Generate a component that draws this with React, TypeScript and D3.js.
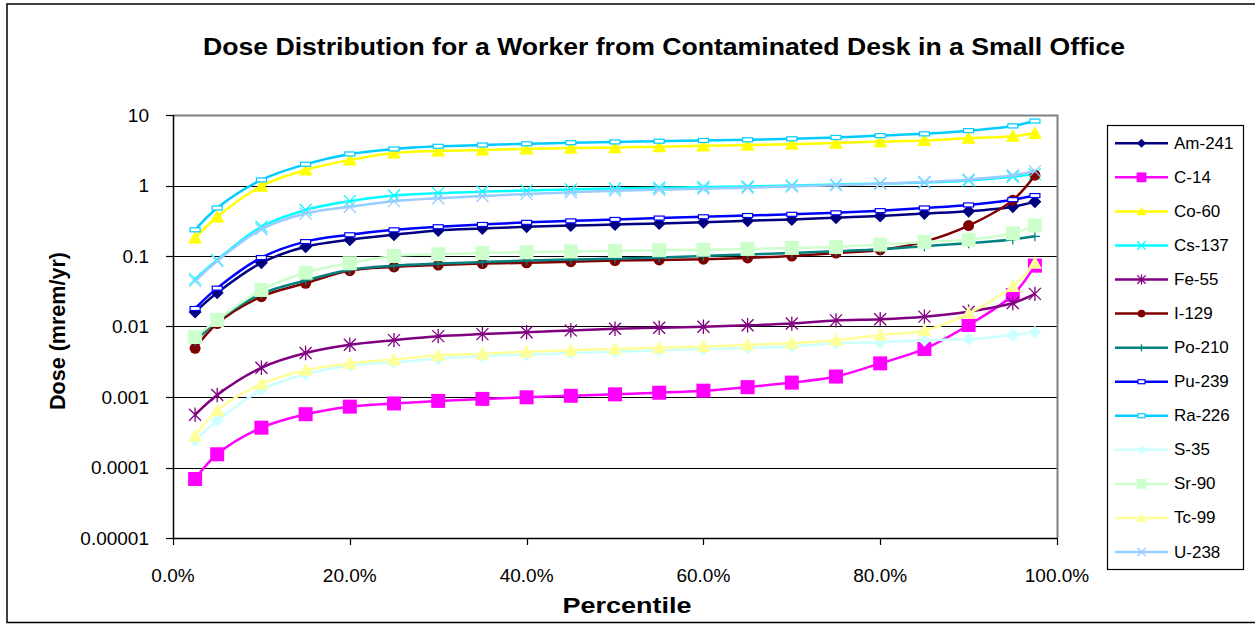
import React from "react";
import * as d3 from "d3";

// percentile points (fraction)
const percentiles = [0.025, 0.05, 0.1, 0.15, 0.2, 0.25, 0.3, 0.35, 0.4, 0.45, 0.5, 0.55, 0.6, 0.65, 0.7, 0.75, 0.8, 0.85, 0.9, 0.95, 0.975];

// dose (mrem/yr) per nuclide
const am241 = [0.016, 0.03, 0.08, 0.135, 0.17, 0.2, 0.23, 0.245, 0.26, 0.27, 0.28, 0.29, 0.3, 0.315, 0.33, 0.35, 0.37, 0.4, 0.43, 0.5, 0.59];
const c14 = [0.0000687, 0.000154, 0.000367, 0.00057, 0.00073, 0.00081, 0.00088, 0.00094, 0.00099, 0.00104, 0.00109, 0.00115, 0.00123, 0.00138, 0.0016, 0.00195, 0.003, 0.0048, 0.0105, 0.028, 0.073];
const co60 = [0.18, 0.36, 0.98, 1.66, 2.3, 2.9, 3.1, 3.2, 3.3, 3.4, 3.45, 3.55, 3.65, 3.75, 3.85, 4.0, 4.2, 4.35, 4.7, 5.0, 5.5];
const cs137 = [0.047, 0.088, 0.26, 0.45, 0.6, 0.72, 0.78, 0.82, 0.85, 0.88, 0.91, 0.93, 0.95, 0.97, 1.0, 1.03, 1.07, 1.1, 1.18, 1.33, 1.45];
const fe55 = [0.00056, 0.00107, 0.0026, 0.0042, 0.0055, 0.0064, 0.0073, 0.0078, 0.0083, 0.0088, 0.0093, 0.0096, 0.0099, 0.0104, 0.011, 0.0122, 0.0127, 0.0138, 0.0162, 0.0215, 0.029];
const i129 = [0.0049, 0.011, 0.0265, 0.041, 0.062, 0.07, 0.0745, 0.078, 0.08, 0.083, 0.086, 0.088, 0.09, 0.094, 0.1, 0.11, 0.122, 0.16, 0.27, 0.62, 1.4];
const po210 = [0.0062, 0.012, 0.029, 0.045, 0.064, 0.073, 0.078, 0.082, 0.086, 0.089, 0.092, 0.095, 0.1, 0.105, 0.11, 0.117, 0.125, 0.138, 0.152, 0.172, 0.19];
const pu239 = [0.018, 0.035, 0.095, 0.16, 0.2, 0.235, 0.26, 0.28, 0.3, 0.315, 0.33, 0.345, 0.36, 0.375, 0.39, 0.41, 0.44, 0.48, 0.53, 0.63, 0.72];
const ra226 = [0.235, 0.48, 1.2, 2.0, 2.8, 3.3, 3.6, 3.75, 3.9, 4.05, 4.15, 4.25, 4.35, 4.45, 4.6, 4.8, 5.1, 5.4, 6.0, 7.0, 8.2];
const s35 = [0.000245, 0.00046, 0.00126, 0.0021, 0.0028, 0.0031, 0.0035, 0.0038, 0.004, 0.0042, 0.0044, 0.0046, 0.0048, 0.005, 0.0052, 0.0058, 0.006, 0.0064, 0.0066, 0.0076, 0.0083];
const sr90 = [0.0071, 0.0124, 0.033, 0.058, 0.079, 0.1, 0.106, 0.11, 0.113, 0.116, 0.118, 0.121, 0.123, 0.126, 0.13, 0.134, 0.145, 0.158, 0.17, 0.21, 0.27];
const tc99 = [0.00028, 0.00064, 0.00153, 0.0024, 0.003, 0.0034, 0.0039, 0.0041, 0.0044, 0.0046, 0.0048, 0.005, 0.0052, 0.0055, 0.0058, 0.0064, 0.0076, 0.0088, 0.0154, 0.037, 0.079];
const u238 = [0.044, 0.085, 0.24, 0.4, 0.5, 0.6, 0.66, 0.71, 0.76, 0.8, 0.84, 0.87, 0.9, 0.93, 0.97, 1.01, 1.06, 1.12, 1.22, 1.4, 1.6];

const seriesNames = ["Am-241", "C-14", "Co-60", "Cs-137", "Fe-55", "I-129", "Po-210", "Pu-239", "Ra-226", "S-35", "Sr-90", "Tc-99", "U-238"];
const seriesValues = [am241, c14, co60, cs137, fe55, i129, po210, pu239, ra226, s35, sr90, tc99, u238];
const seriesColors = ["#000080", "#FF00FF", "#FFFF00", "#00FFFF", "#800080", "#800000", "#008080", "#0000FF", "#00CCFF", "#CCFFFF", "#CCFFCC", "#FFFF99", "#99CCFF"];
const seriesMarkers = ["diamond", "square", "triangle", "x", "star", "circle", "plus", "dash", "dash", "diamond", "square", "triangle", "x"];

const yTicks = [0.00001, 0.0001, 0.001, 0.01, 0.1, 1, 10];
const yTickLabels = ["0.00001", "0.0001", "0.001", "0.01", "0.1", "1", "10"];
const xTicks = [0, 0.2, 0.4, 0.6, 0.8, 1];

const W = 1255;
const H = 624;
const plot = { left: 173, right: 1057, top: 115, bottom: 538 };
const font = "'Liberation Sans', Arial, sans-serif";

function Marker({ type, x, y, color, k = 1 }: { type: string; x: number; y: number; color: string; k?: number }) {
  switch (type) {
    case "diamond": {
      const s = 6.5 * k;
      return <polygon points={`${x},${y - s} ${x + s},${y} ${x},${y + s} ${x - s},${y}`} fill={color} />;
    }
    case "square": {
      const s = 7 * k;
      return <rect x={x - s} y={y - s} width={2 * s} height={2 * s} fill={color} />;
    }
    case "triangle": {
      const s = 7 * k;
      return <polygon points={`${x},${y - s} ${x + s},${y + s * 0.8} ${x - s},${y + s * 0.8}`} fill={color} />;
    }
    case "circle":
      return <circle cx={x} cy={y} r={5.5 * k} fill={color} />;
    case "x": {
      const s = 6 * k;
      return (
        <path d={`M${x - s},${y - s}L${x + s},${y + s}M${x - s},${y + s}L${x + s},${y - s}`} stroke={color} strokeWidth={1.3} fill="none" />
      );
    }
    case "star": {
      const s = 6 * k;
      return (
        <path
          d={`M${x - s},${y - s}L${x + s},${y + s}M${x - s},${y + s}L${x + s},${y - s}M${x},${y - s * 1.2}L${x},${y + s * 1.2}`}
          stroke={color}
          strokeWidth={1.3}
          fill="none"
        />
      );
    }
    case "plus": {
      const s = 5 * k;
      return <path d={`M${x - s},${y}L${x + s},${y}M${x},${y - s}L${x},${y + s}`} stroke={color} strokeWidth={1.3} fill="none" />;
    }
    case "dash": {
      const w = 5 * k;
      return <rect x={x - w} y={y - 2} width={2 * w} height={4} fill="#fff" stroke={color} strokeWidth={1.2} />;
    }
    default:
      return null;
  }
}

export default function App() {
  const x = d3.scaleLinear().domain([0, 1]).range([plot.left, plot.right]);
  const y = d3.scaleLog().domain([0.00001, 10]).range([plot.bottom, plot.top]);

  const line = d3
    .line<number>()
    .x((d, i) => x(percentiles[i]))
    .y((d) => y(d))
    .curve(d3.curveCatmullRom.alpha(0.5));

  const legendX = 1107;
  const legendY = 125;
  const rowH = 34.06;

  return (
    <svg width={W} height={H} style={{ position: "absolute", left: 0, top: 0, background: "#fff" }} fontFamily={font}>
      <rect x={7} y={4} width={W + 20} height={618.5} fill="#fff" stroke="#000" strokeWidth={1.5} />

      <text
        x={664}
        y={47}
        textAnchor="middle"
        dominantBaseline="central"
        fontSize={23}
        fontWeight="bold"
        textLength={922}
        lengthAdjust="spacingAndGlyphs"
      >
        Dose Distribution for a Worker from Contaminated Desk in a Small Office
      </text>

      {/* grid lines */}
      {yTicks.slice(1, -1).map((t) => (
        <line key={t} x1={plot.left} x2={plot.right} y1={Math.round(y(t)) + 0.5} y2={Math.round(y(t)) + 0.5} stroke="#000" strokeWidth={1} />
      ))}
      {/* plot border */}
      <path d={`M${plot.left},${plot.top + 0.5}H${plot.right + 0.5}V${plot.bottom}`} fill="none" stroke="#808080" strokeWidth={2} />

      {/* axes */}
      <line x1={plot.left + 0.5} x2={plot.left + 0.5} y1={plot.top} y2={plot.bottom} stroke="#000" strokeWidth={1.5} />
      <line x1={plot.left} x2={plot.right} y1={plot.bottom + 0.5} y2={plot.bottom + 0.5} stroke="#000" strokeWidth={1.5} />
      {yTicks.map((t, i) => (
        <g key={t}>
          <line x1={plot.left - 7} x2={plot.left} y1={Math.round(y(t)) + 0.5} y2={Math.round(y(t)) + 0.5} stroke="#000" strokeWidth={1.2} />
          <text x={149} y={y(t)} textAnchor="end" dominantBaseline="central" fontSize={19}>
            {yTickLabels[i]}
          </text>
        </g>
      ))}
      {xTicks.map((t) => (
        <g key={t}>
          <line x1={Math.round(x(t)) + 0.5} x2={Math.round(x(t)) + 0.5} y1={plot.bottom} y2={plot.bottom + 7} stroke="#000" strokeWidth={1.2} />
          <text x={x(t)} y={575} textAnchor="middle" dominantBaseline="central" fontSize={19}>
            {d3.format(".1%")(t)}
          </text>
        </g>
      ))}

      <text
        x={627}
        y={605}
        textAnchor="middle"
        dominantBaseline="central"
        fontSize={22}
        fontWeight="bold"
        textLength={129}
        lengthAdjust="spacingAndGlyphs"
      >
        Percentile
      </text>
      <text
        transform={`translate(57,331) rotate(-90)`}
        textAnchor="middle"
        dominantBaseline="central"
        fontSize={22}
        fontWeight="bold"
        textLength={158}
        lengthAdjust="spacingAndGlyphs"
      >
        Dose (mrem/yr)
      </text>

      {/* series */}
      {seriesValues.map((vals, si) => (
        <g key={seriesNames[si]}>
          <path d={line(vals) || ""} fill="none" stroke={seriesColors[si]} strokeWidth={2.5} />
          {vals.map((v, i) => (
            <Marker key={i} type={seriesMarkers[si]} x={x(percentiles[i])} y={y(v)} color={seriesColors[si]} />
          ))}
        </g>
      ))}

      {/* legend */}
      <rect x={legendX + 0.5} y={legendY + 0.5} width={136} height={444} fill="#fff" stroke="#000" strokeWidth={1.2} />
      {seriesNames.map((name, i) => {
        const ly = 143.3 + i * rowH;
        return (
          <g key={name}>
            <line x1={1115} x2={1168} y1={ly} y2={ly} stroke={seriesColors[i]} strokeWidth={2.5} />
            <Marker type={seriesMarkers[i]} x={1141.5} y={ly} color={seriesColors[i]} k={0.7} />
            <text x={1174} y={ly} dominantBaseline="central" fontSize={17}>
              {name}
            </text>
          </g>
        );
      })}
    </svg>
  );
}
